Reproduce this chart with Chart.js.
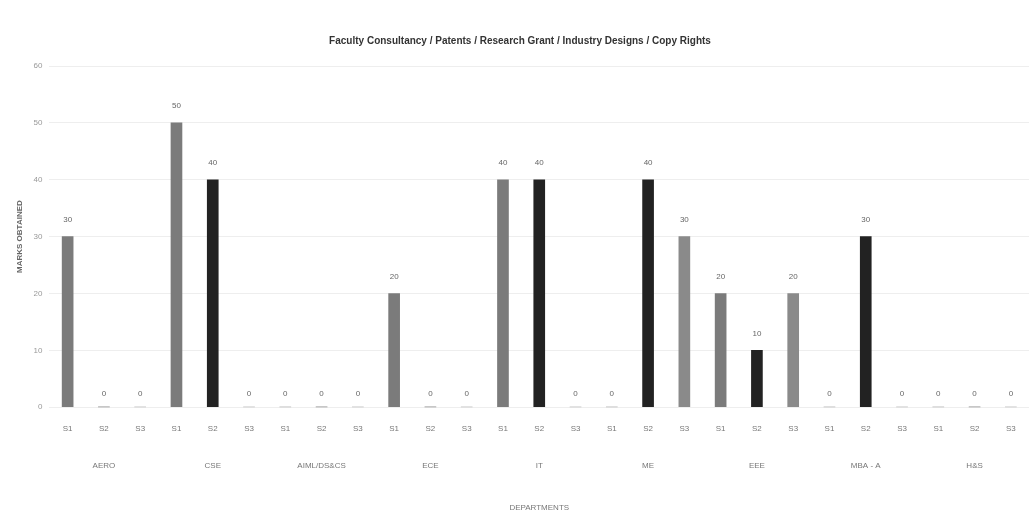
<!DOCTYPE html>
<html>
<head>
<meta charset="utf-8">
<script src="https://cdn.jsdelivr.net/npm/chart.js@4.4.1/dist/chart.umd.min.js"></script>
<style>
  body { margin: 0; background: #fff; }
  #wrap { width: 1033px; height: 521px; }
</style>
</head>
<body>
<div id="wrap"><canvas id="deptChart"></canvas></div>
<script>
// 학과 / 구분 / 점수
var departments = ['AERO', 'CSE', 'AIML/DS&CS', 'ECE', 'IT', 'ME', 'EEE', 'MBA - A', 'H&S'];
var semesters = ['S1', 'S2', 'S3'];
var marks = [
  30, 0, 0,
  50, 40, 0,
  0, 0, 0,
  20, 0, 0,
  40, 40, 0,
  0, 40, 30,
  20, 10, 20,
  0, 30, 0,
  0, 0, 0
];
var yTicks = [0, 10, 20, 30, 40, 50, 60];

var semColors = { S1: '#7b7b7b', S2: '#222222', S3: '#8a8a8a' };

var labels = [];
var colors = [];
departments.forEach(function (d) {
  semesters.forEach(function (s) {
    labels.push(s);
    colors.push(semColors[s]);
  });
});

// 막대 위 값 표시
var valueLabels = {
  id: 'valueLabels',
  afterDatasetsDraw: function (chart) {
    var ctx = chart.ctx;
    var meta = chart.getDatasetMeta(0);
    ctx.save();
    ctx.font = '8px "Liberation Sans", Arial, sans-serif';
    ctx.fillStyle = '#666';
    ctx.textAlign = 'center';
    ctx.textBaseline = 'bottom';
    meta.data.forEach(function (bar, i) {
      var off = marks[i] === 0 ? 9 : 13;
      ctx.fillText(marks[i], bar.x, bar.y - off);
    });
    ctx.restore();
  }
};

var ctx = document.getElementById('deptChart').getContext('2d');
var deptChart = new Chart(ctx, {
  type: 'bar',
  data: {
    labels: labels,
    datasets: [{
      label: 'Marks',
      data: marks,
      backgroundColor: colors,
      borderWidth: 0,
      barThickness: 11,
      xAxisID: 'x'
    }]
  },
  options: {
    responsive: true,
    maintainAspectRatio: false,
    animation: false,
    layout: { padding: { top: 35, right: 4, left: 11, bottom: 8 } },
    plugins: {
      legend: { display: false },
      tooltip: { enabled: false },
      title: {
        display: true,
        text: 'Faculty Consultancy / Patents / Research Grant / Industry Designs / Copy Rights',
        color: '#333',
        font: { family: '"Liberation Sans Narrow", "Liberation Sans", sans-serif', size: 10, weight: 'bold' },
        padding: { top: 0, bottom: 19 }
      }
    },
    scales: {
      x: {
        type: 'category',
        grid: { display: false },
        border: { display: false },
        ticks: { color: '#777', font: { size: 8 }, padding: 9, maxRotation: 0, autoSkip: false }
      },
      x2: {
        type: 'category',
        labels: departments,
        position: 'bottom',
        offset: true,
        grid: { display: false },
        border: { display: false },
        ticks: { color: '#777', font: { size: 8 }, padding: 10, maxRotation: 0, autoSkip: false },
        title: {
          display: true,
          text: 'DEPARTMENTS',
          color: '#777',
          font: { size: 8 },
          padding: { top: 23, bottom: 0 }
        }
      },
      y: {
        min: 0,
        max: 60,
        afterBuildTicks: function (axis) {
          axis.ticks = yTicks.map(function (v) { return { value: v }; });
        },
        grid: { color: '#eeeeee', drawTicks: false },
        border: { display: false },
        ticks: { color: '#999', font: { size: 8 }, padding: 7 },
        title: {
          display: true,
          text: 'MARKS OBTAINED',
          color: '#666',
          font: { size: 8, weight: 'bold' },
          padding: { bottom: 2 }
        }
      }
    }
  },
  plugins: [valueLabels]
});
</script>
</body>
</html>
